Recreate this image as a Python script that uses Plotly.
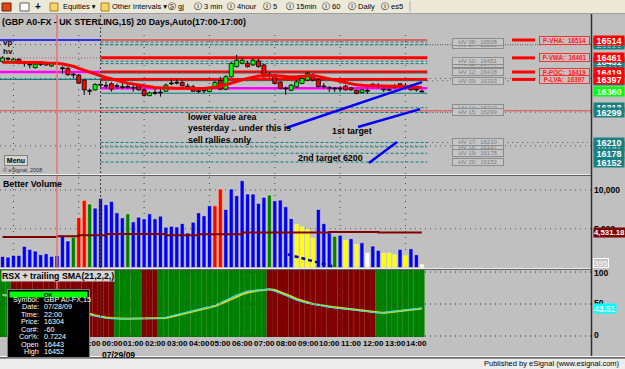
import plotly.graph_objects as go
import pandas as pd

W, H = 625, 369
def PX(x): return x / W
def PY(y): return 1 - y / H

NARROW = "Liberation Sans Narrow, Liberation Sans, Arial, sans-serif"
SANS = "Liberation Sans, Arial, sans-serif"

# ------------------------------------------------------------------ data
bar_times = list(pd.date_range("2009-07-28 19:30", periods=78, freq="15min"))

opens = [16450,16458,16450,16457,16445,16440,16432,16441,16446,16437,
         16443,16430,16430,16412,16410,16395,16364,16366,16380,16378,
         16384,16376,16374,16375,16372,16378,16366,16349,16356,16358,
         16362,16385,16387,16388,16376,16375,16362,16363,16361,16372,
         16394,16368,16405,16435,16445,16445,16440,16452,16440,16412,
         16410,16389,16370,16365,16375,16385,16395,16410,16396,16376,
         16372,16370,16370,16377,16372,16365,16358,16363,16376,16378,
         16366,16366,16375,16384,16378,16380,16366,16361]
highs = [16466,16463,16461,16460,16448,16443,16446,16448,16449,16447,
         16452,16436,16433,16416,16413,16398,16370,16386,16395,16390,
         16389,16385,16387,16385,16385,16381,16370,16361,16370,16370,
         16385,16400,16397,16394,16385,16381,16372,16370,16375,16393,
         16405,16410,16448,16470,16462,16452,16460,16458,16444,16418,
         16413,16392,16376,16384,16394,16404,16420,16415,16399,16386,
         16377,16375,16377,16381,16375,16367,16368,16374,16386,16386,
         16374,16374,16384,16386,16386,16381,16370,16366]
lows = [16446,16452,16447,16442,16435,16430,16429,16437,16437,16434,
        16438,16414,16408,16400,16384,16351,16351,16364,16370,16370,
        16361,16369,16368,16368,16361,16364,16346,16347,16351,16346,
        16360,16380,16382,16376,16370,16360,16356,16356,16359,16370,
        16365,16365,16403,16432,16442,16432,16437,16432,16402,16400,
        16382,16368,16351,16362,16372,16383,16393,16392,16373,16370,
        16360,16360,16360,16364,16363,16353,16356,16355,16374,16370,
        16360,16363,16370,16374,16373,16364,16361,16358]
closes = [16461,16457,16457,16445,16444,16440,16442,16441,16440,16444,
          16443,16429,16411,16410,16386,16366,16362,16382,16380,16377,
          16368,16376,16373,16374,16371,16366,16350,16357,16356,16357,
          16380,16384,16386,16378,16375,16362,16361,16363,16370,16388,
          16368,16405,16445,16454,16454,16435,16454,16435,16405,16410,
          16385,16371,16369,16380,16390,16400,16415,16395,16376,16375,
          16371,16369,16369,16366,16366,16356,16366,16362,16383,16377,
          16366,16365,16374,16376,16377,16366,16366,16360]
ma_line = [16448,16448,16449,16449,16449,16448,16447,16447,16446,16446,
           16445,16443,16440,16436,16430,16424,16418,16413,16408,16403,
           16398,16394,16390,16386,16383,16380,16377,16375,16373,16372,
           16371,16371,16371,16371,16370,16370,16370,16370,16371,16374,
           16377,16381,16386,16391,16396,16400,16404,16407,16408,16409,
           16408,16407,16405,16404,16405,16407,16409,16409,16406,16402,
           16398,16394,16390,16387,16384,16381,16379,16378,16378,16378,
           16377,16376,16376,16376,16376,16375,16374,16373]

volume = [1430,1340,1560,1560,2730,2340,2120,1650,1780,1430,
          1560,4160,3420,3900,6450,8660,8180,7660,8920,8100,
          8530,7060,6410,6930,5890,6490,6280,6930,6280,6620,
          5200,5320,5230,5670,4460,5840,7060,6670,7970,7970,
          10130,7490,10130,9260,11210,9480,9480,8270,9050,9350,
          8610,8700,7840,6320,5580,5240,4940,3810,7490,5670,
          4460,4030,4160,3510,3720,2990,3200,1900,2770,2210,
          1860,1860,1650,2340,1560,2420,1650,395]
volume_class = list("BBBBBBBBBBBBB" "G" "RR" "G" "BBBBBB" "G" "BBBBBBBBBBBBBBB" "RR"
                    "BBBBBBBB" "G" "BBBB" "YYYY" "BBB" "G" "B" "Y" "B" "Y" "B" "W"
                    "BB" "YYY" "B" "Y" "BB" "W")
volume_avg = [3940]*10 + [4030]*4 + [4160]*5 + [4330]*11 + [4160]*6 + [4300]*8 \
             + [4500]*16 + [4590]*9 + [4531.18]*9

rsx = [64,63,62,61,60,59,58,57,56,55,
       54,51,47,43,40,36,33,31,29,28,
       27,27,27,27,27,27,27,27,28,28,
       29,31,33,35,38,40,42,44,46,48,
       52,56,61,64,67,70,71,72,73,73,
       70,67,64,60,56,53,51,50,48,47,
       45,44,43,42,41,40,39,38,37,36,
       37,38,39,40,41,42,43,43.51]
rsx_sma = [64,64,63,62,61,60,59,58,57,56,
           55,53,50,46,42,39,35,32,30,29,
           28,27,27,27,27,27,27,27,27,28,
           28,30,32,34,36,39,41,43,45,47,
           50,54,58,62,65,68,70,71,72,73,
           72,69,66,62,58,55,52,50,49,47,
           46,45,44,43,42,41,40,39,38,37,
           36,37,38,39,40,41,42,43]
rsx_state = list("G"*2 + "R"*19 + "G"*5 + "R"*3 + "G"*20 + "R"*20 + "G"*9)

hv_names = ["HV 07", "HV 08", "HV 11", "HV 10", "HV 12", "HV 09", "HV 14", "HV 15",
            "HV 18", "HV 17", "HV 19", "HV 20"]
hv_prices = [16500, 16508, 16444, 16451, 16418, 16393, 16313, 16299, 16197, 16210, 16178, 16152]
prev_names = ["P-VHA", "P-VWA", "P-POC", "P-LVA"]
prev_prices = [16514, 16461, 16419, 16397]
vp_poc_today = 16371
val_today = 16356
cursor_price = 16304
cursor_index = 10
last_price = closes[-1]
tick_labels = pd.date_range("2009-07-28 23:00", "2009-07-29 14:00", freq="1h")

# ------------------------------------------------------------------ helpers
T0 = pd.Timestamp("2009-07-29 00:00")
def T(h): return T0 + pd.Timedelta(hours=h)
PPH = 21.78            # pixels per hour
H_LEFT = -2 - 57 / PPH
H_RIGHT = -2 + (592 - 57) / PPH
MS_HR = 3600000
BAR_W = 4.0 / PPH * MS_HR
def TPX(x): return T(H_LEFT + x / PPH)

vol_colors = {"B": "#0000ff", "G": "#008000", "R": "#ff0000", "Y": "#ffff00", "W": "#ffffff"}
state_colors = {"G": "#008000", "R": "#800000"}

fig = go.Figure()

fig.add_trace(go.Bar(x=bar_times, y=[120]*len(bar_times), base=-10, width=0.25*MS_HR,
                     marker=dict(color=[state_colors[s] for s in rsx_state], line=dict(width=0)),
                     xaxis="x", yaxis="y3", hoverinfo="skip"))
fig.add_trace(go.Bar(x=bar_times, y=volume, width=BAR_W,
                     marker=dict(color=[vol_colors[c] for c in volume_class],
                                 line=dict(color="#f4f0b0", width=0.5)),
                     xaxis="x", yaxis="y2", hoverinfo="skip"))
fig.add_trace(go.Scatter(x=bar_times, y=volume_avg, mode="lines", line=dict(color="#800000", width=2, shape="hv"),
                         xaxis="x", yaxis="y2", hoverinfo="skip"))

body_base, body_h, body_col = [], [], []
for o, c in zip(opens, closes):
    body_base.append(min(o, c))
    body_h.append(max(abs(c - o), 2.5))
    if c - o > 2:
        body_col.append("#00ff00")
    elif o - c > 2:
        body_col.append("#ff0000")
    else:
        body_col.append("#000000")
wx, wy = [], []
for t, o, hi, lo, c in zip(bar_times, opens, highs, lows, closes):
    wx += [t, t, None, t, t, None]
    wy += [hi, max(o, c), None, min(o, c), lo, None]
fig.add_trace(go.Scatter(x=wx, y=wy, mode="lines", line=dict(color="#000000", width=1),
                         xaxis="x", yaxis="y", hoverinfo="skip", connectgaps=False))
fig.add_trace(go.Bar(x=bar_times, y=body_h, base=body_base, width=BAR_W,
                     marker=dict(color=body_col, line=dict(color="#000000", width=0.8)),
                     xaxis="x", yaxis="y", hoverinfo="skip"))
fig.add_trace(go.Scatter(x=bar_times, y=ma_line, mode="lines", line=dict(color="#ff0000", width=3),
                         xaxis="x", yaxis="y", hoverinfo="skip"))

fig.add_trace(go.Scatter(x=bar_times, y=rsx_sma, mode="lines", line=dict(color="#e8d800", width=2),
                         xaxis="x", yaxis="y3", hoverinfo="skip"))
fig.add_trace(go.Scatter(x=bar_times, y=rsx, mode="lines", line=dict(color="#40d8d8", width=1.3),
                         xaxis="x", yaxis="y3", hoverinfo="skip"))

shapes = []
def hline(y, yref, x0, x1, color, width=1, dash=None, xref="x", layer="below"):
    d = dict(type="line", xref=xref, yref=yref, x0=x0, x1=x1, y0=y, y1=y,
             line=dict(color=color, width=width), layer=layer)
    if dash: d["line"]["dash"] = dash
    shapes.append(d)

shapes.append(dict(type="rect", xref="paper", yref="paper", x0=0, x1=1, y0=PY(13), y1=1,
                   fillcolor="#ece9d8", line=dict(width=0), layer="above"))
shapes.append(dict(type="line", xref="paper", yref="paper", x0=0, x1=1, y0=PY(13.5), y1=PY(13.5),
                   line=dict(color="#a0a0a0", width=1), layer="above"))
shapes.append(dict(type="line", xref="paper", yref="paper", x0=PX(410), x1=PX(410), y0=PY(1), y1=PY(12),
                   line=dict(color="#b0b0b0", width=1), layer="above"))
for (x0, x1, fc, lc) in [(2, 11, "#e04818", "#602010"), (20, 29, "#ffffff", "#606060"),
                         (50, 58, "#f6d466", "#a88020"), (101, 109, "#f6d466", "#a88020")]:
    shapes.append(dict(type="rect", xref="paper", yref="paper", x0=PX(x0), x1=PX(x1), y0=PY(11), y1=PY(3),
                       fillcolor=fc, line=dict(color=lc, width=1), layer="above"))

for p in [16500, 16400, 16300, 16200]:
    hline(p, "y", 0, PX(592), "#555555", 1, "1px,4px", xref="paper")
for v in [10000, 5000]:
    hline(v, "y2", 0, PX(591), "#555555", 1, "1px,4px", xref="paper")
for v in [100, 50, 0]:
    hline(v, "y3", 0, PX(591), "#303030", 1, "1px,4px", xref="paper", layer="above")
for h in [-4, -1, 2, 5, 8, 11, 14]:
    for yr, lay in [("y", "below"), ("y2", "below"), ("y3", "above")]:
        shapes.append(dict(type="line", xref="x", yref=yr + " domain", x0=T(h), x1=T(h), y0=0, y1=1,
                           line=dict(color="#404040", width=1, dash="1px,5px"), layer=lay))

hline(prev_prices[0], "y", T(H_LEFT), T(0), "#0000ff", 1.5)
hline(prev_prices[1], "y", T(H_LEFT), T(0), "#b06060", 1, "1px,2px")
hline(prev_prices[2], "y", T(H_LEFT), T(0), "#ff00ff", 2.5)
hline(prev_prices[3], "y", T(H_LEFT), T(0), "#008080", 1.2)
hline(prev_prices[0], "y", T(0), T(15), "#ff0000", 1)
for p in prev_prices[1:]:
    hline(p, "y", T(0), T(15), "#ff0000", 3)
for p in hv_prices:
    hline(p, "y", T(0), T(15), "#008080", 1, "3px,2px")
hline(vp_poc_today, "y", T(0), T(15), "#ff00ff", 2.5)
hline(val_today, "y", T(0), T(15), "#008080", 1.2)
for p, x1 in [(16500, 540), (16393, 512), (16299, 452), (16210, 588)]:
    hline(p, "y", T(15), TPX(x1), "#505050", 1, "1px,4px")
for p in prev_prices:
    hline(p, "y", TPX(512), TPX(535), "#ff0000", 3, layer="above")

hline(cursor_price, "y", 0, PX(592), "#e84848", 1, xref="paper", layer="above")
shapes.append(dict(type="line", xref="x", yref="paper", x0=bar_times[cursor_index], x1=bar_times[cursor_index],
                   y0=PY(337), y1=PY(15), line=dict(color="#f07070", width=1.5), layer="above"))
shapes.append(dict(type="line", xref="x", yref="paper", x0=T(0), x1=T(0), y0=PY(337), y1=PY(15),
                   line=dict(color="#404040", width=1, dash="2px,2px"), layer="above"))

for (h0, p0, h1, p1) in [(8.51, 16253, 14.76, 16389), (11.82, 16256, 14.67, 16309), (12.32, 16149, 13.61, 16211)]:
    shapes.append(dict(type="line", xref="x", yref="y", x0=T(h0), y0=p0, x1=T(h1), y1=p1,
                       line=dict(color="#0000ff", width=2.5), layer="above"))
shapes.append(dict(type="line", xref="x", yref="y2", x0=T(8.6), y0=1690, x1=T(10.67), y1=130,
                   line=dict(color="#0000c0", width=2.5, dash="4px,3px"), layer="above"))

for yy, col in [(174.5, "#eeeeee"), (175.5, "#606060"), (268.5, "#eeeeee"), (269.5, "#606060")]:
    shapes.append(dict(type="line", xref="paper", yref="paper", x0=0, x1=PX(591), y0=PY(yy), y1=PY(yy),
                       line=dict(color=col, width=1), layer="above"))
shapes.append(dict(type="line", xref="paper", yref="paper", x0=PX(591.5), x1=PX(591.5), y0=PY(357), y1=PY(14),
                   line=dict(color="#303030", width=1.5), layer="above"))
shapes.append(dict(type="rect", xref="paper", yref="paper", x0=0, x1=1, y0=0, y1=PY(357.5),
                   fillcolor="#ececec", line=dict(width=0), layer="above"))
shapes.append(dict(type="line", xref="paper", yref="paper", x0=0, x1=1, y0=PY(356.5), y1=PY(356.5),
                   line=dict(color="#f8f8f8", width=1), layer="above"))
shapes.append(dict(type="line", xref="paper", yref="paper", x0=0, x1=1, y0=PY(357.8), y1=PY(357.8),
                   line=dict(color="#404040", width=1.2), layer="above"))

ann = []
def text(x, y, s, size=8, color="#000000", family=NARROW, xanchor="left", yanchor="middle",
         xref="paper", yref="paper", **kw):
    d = dict(x=x, y=y, xref=xref, yref=yref, text=s, showarrow=False, xanchor=xanchor, yanchor=yanchor,
             font=dict(size=size, color=color, family=family), borderpad=0)
    d.update(kw)
    ann.append(d)

text(PX(34), PY(6.5), "<b>+</b>", 10, family=SANS)
for x, s in [(62, "Equities ▾"), (111, "Other Intervals ▾"), (167, "Ⓢ gj"), (193, "Ⓘ 3 min"),
             (226, "Ⓘ 4hour"), (262, "Ⓘ 5"), (285, "Ⓘ 15min"), (321, "Ⓘ 60"), (347, "Ⓘ Daily"),
             (380, "Ⓘ es5")]:
    text(PX(x), PY(7), s, 7.5, family="Liberation Sans, DejaVu Sans, sans-serif")

text(PX(1), PY(22), "<b>(GBP A0-FX - UK STERLING,15) 20 Days,Auto(17:00-17:00)</b>", 8.8)
text(PX(2), PY(42.5), "<b>vp</b>", 8)
text(PX(2), PY(51.5), "<b>hv</b>", 8)
text(PX(4), PY(160), "<b>Menu</b>", 7, bgcolor="#d8d4cc", bordercolor="#808080", borderwidth=1,
     width=22, height=9)
text(PX(2), PY(170), "© eSignal, 2008", 5.5, color="#303030")
text(PX(2), PY(183.5), "<b>Better Volume</b>", 8.8)
text(PX(1), PY(276), "<b>RSX + trailing SMA(21,2,2,)</b>", 8.8, bgcolor="#d6d6d6")

text(PX(187), PY(111), "<b>lower value area<br>yesterday .. under this is<br>sell rallies only</b>", 8.8,
     yanchor="top", align="left")
text(PX(331), PY(131), "<b>1st target</b>", 8.8)
text(PX(297), PY(158), "<b>2nd target 6200</b>", 8.8)

for n, p in zip(hv_names, hv_prices):
    text(PX(452), p, f"HV {n[3:]}:  {p}", 6, color="#7c7c7c", yref="y", bgcolor="#c6c6c6",
         bordercolor="#8c8c8c", borderwidth=1, width=50, height=6)
for n, p in zip(prev_names, prev_prices):
    text(PX(539), p, f"<b>{n}:  {p}</b>", 6.3, color="#ff2020", yref="y", bgcolor="#c8c0c0",
         bordercolor="#ff3030", borderwidth=1, width=49, height=7)

for p in hv_prices:
    text(PX(592.5), p, f"<b>{p}</b>", 9, color="#ffffff", yref="y", bgcolor="#1a8080", width=30, height=9)
for p in prev_prices:
    text(PX(592.5), p, f"<b>{p}</b>", 9, color="#ffffff", yref="y", bgcolor="#ff0000", width=30, height=9)
text(PX(592.5), last_price, f"<b>{last_price}</b>", 9, color="#ffffff", yref="y", bgcolor="#00ff00",
     width=30, height=9)
text(PX(593), 10000, "<b>10,000</b>", 8.5, yref="y2")
text(PX(593), 5000, "<b>5,000</b>", 8.5, yref="y2")
text(PX(592.5), volume_avg[-1], f"<b>{volume_avg[-1]:,.2f}</b>", 7.8, color="#ffffff", yref="y2",
     bgcolor="#800000", height=9, width=31)
text(PX(592.5), volume[-1] + 150, f"{volume[-1]}", 8, color="#ffffff", yref="y2", bgcolor="#c4c4c4",
     bordercolor="#ffffff", borderwidth=1, height=8)
text(PX(593), 98, "<b>100</b>", 8.5, yref="y3")
text(PX(593), 52, "<b>50</b>", 8.5, yref="y3")
text(PX(592.5), rsx[-1], f"<b>{rsx[-1]:.2f}</b>", 8.5, color="#ffffff", yref="y3", bgcolor="#00ffff", height=9)
text(PX(593), 1, "<b>0</b>", 8.5, yref="y3")

for t in tick_labels:
    text(t, PY(343.5), f"<b>{t.strftime('%H:%M')}</b>", 8, xref="x")
text(T(0), PY(355), "<b>07/29/09</b>", 8.5, xref="x")

text(PX(7), PY(289), " ", 6, xanchor="left", yanchor="top", bgcolor="#000000", bordercolor="#808080",
     borderwidth=1, width=81, height=67)
text(PX(9), PY(291), "<b>OK</b>", 6, xanchor="left", yanchor="top", bgcolor="#00ff00", width=77, height=5)
rows = [("Symbol:", "GBP A0-FX,15"), ("Date:", "07/28/09"), ("Time:", bar_times[cursor_index].strftime("%H:%M")),
        ("Price:", str(cursor_price)), ("Cor#:", "-60"), ("Cor%:", "0.7224"),
        ("Open", str(opens[cursor_index])), ("High", str(highs[cursor_index]))]
for k, (lab, val) in enumerate(rows):
    yy = 299.5 + k * 7.45
    text(PX(40), PY(yy), lab, 7.2, color="#ffffff", xanchor="right")
    text(PX(43), PY(yy), val, 7.2, color="#ffffff")

text(PX(621), PY(363.5), "Published by eSignal (www.esignal.com)", 7.5, family=SANS, xanchor="right")

ax_common = dict(showgrid=False, zeroline=False, showticklabels=False, showline=False, fixedrange=True, ticks="")
fig.update_layout(
    width=W, height=H, autosize=False, margin=dict(l=0, r=0, t=0, b=0),
    paper_bgcolor="#c0c0c0", plot_bgcolor="#c0c0c0", showlegend=False, barmode="overlay",
    xaxis=dict(domain=[0, PX(592)], range=[T(H_LEFT), T(H_RIGHT)], type="date", anchor="y3", **ax_common),
    yaxis=dict(domain=[PY(174), PY(30)], range=[16116.4, 16543.7], anchor="x", **ax_common),
    yaxis2=dict(domain=[PY(268), PY(176)], range=[-65, 11806], anchor="x", **ax_common),
    yaxis3=dict(domain=[PY(337), PY(270)], range=[-1.5625, 103.125], anchor="x", **ax_common),
    shapes=shapes, annotations=ann,
)
fig.write_html("out.html", config={"displayModeBar": False, "staticPlot": True})
